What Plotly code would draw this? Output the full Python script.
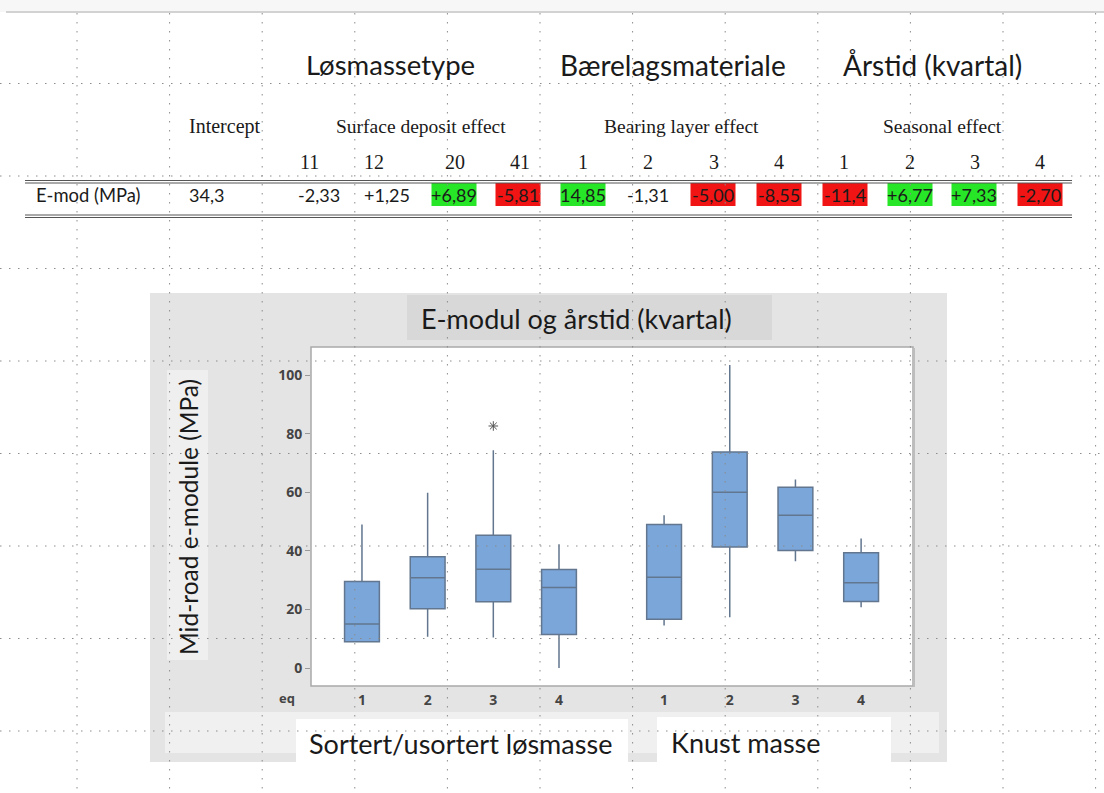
import plotly.graph_objects as go

# ---------------- data ----------------
# regression table (top)
intercept_label = "34,3"
surface_codes = ["11", "12", "20", "41"]
surface_effects = ["-2,33", "+1,25", "+6,89", "-5,81"]
bearing_codes = ["1", "2", "3", "4"]
bearing_effects = ["14,85", "-1,31", "-5,00", "-8,55"]
season_codes = ["1", "2", "3", "4"]
season_effects = ["-11,4", "+6,77", "+7,33", "-2,70"]
# highlight: "g" = green (significant +), "r" = red (significant -), "" = none
surface_flags = ["", "", "g", "r"]
bearing_flags = ["g", "", "r", "r"]
season_flags = ["r", "g", "g", "r"]

# box plot (E-modul by quarter, two groups)
group_names = ["Sortert/usortert løsmasse", "Knust masse"]
quarter_labels = ["1", "2", "3", "4", "1", "2", "3", "4"]
lower_whisker = [9.0, 10.7, 10.4, 0.0, 14.5, 17.3, 36.4, 20.7]
q1_values = [9.0, 20.2, 22.6, 11.4, 16.6, 41.3, 40.1, 22.7]
median_values = [15.0, 30.8, 33.7, 27.5, 31.0, 60.0, 52.1, 29.1]
q3_values = [29.5, 38.0, 45.3, 33.6, 49.0, 73.7, 61.7, 39.3]
upper_whisker = [49.0, 59.8, 74.3, 42.2, 52.1, 103.4, 64.3, 44.2]
outlier_box = [2]          # index of the box carrying an outlier
outlier_values = [82.6]
y_ticks = [0, 20, 40, 60, 80, 100]

# ---------------- layout helpers ----------------
W, H = 1104, 793
def fx(p):
    return p / W
def fy(p):
    return 1 - p / H

slot_x = [1, 2, 3, 4, 5.6, 6.6, 7.6, 8.6]   # axis slots for the 8 boxes

SANS = "Lato, 'Open Sans', sans-serif"
SERIF = "'Liberation Serif', 'DejaVu Serif', serif"
TICK = "'Open Sans', sans-serif"

fig = go.Figure()

fig.add_trace(go.Box(
    x=slot_x, q1=q1_values, median=median_values, q3=q3_values,
    lowerfence=lower_whisker, upperfence=upper_whisker,
    width=0.53, whiskerwidth=0, boxpoints=False,
    fillcolor="#7ba6d9", line=dict(color="#62768f", width=1.5),
    showlegend=False, hoverinfo="skip",
))
fig.add_trace(go.Scatter(
    x=[slot_x[i] for i in outlier_box], y=outlier_values, mode="markers",
    marker=dict(symbol="asterisk-open", size=8, color="#555",
                line=dict(color="#555", width=1)),
    showlegend=False, hoverinfo="skip",
))

shapes = []
def rect(x0, y0, x1, y1, fill, line=None, lw=0, layer="below"):
    shapes.append(dict(type="rect", xref="paper", yref="paper",
                       x0=fx(x0), x1=fx(x1), y0=fy(y1), y1=fy(y0),
                       fillcolor=fill, layer=layer,
                       line=dict(color=line or "rgba(0,0,0,0)", width=lw)))
def hline(x0, x1, y, color, width, dash="solid", layer="below"):
    shapes.append(dict(type="line", xref="paper", yref="paper",
                       x0=fx(x0), x1=fx(x1), y0=fy(y), y1=fy(y), layer=layer,
                       line=dict(color=color, width=width, dash=dash)))
def vline(x, y0, y1, color, width, dash="solid", layer="below"):
    shapes.append(dict(type="line", xref="paper", yref="paper",
                       x0=fx(x), x1=fx(x), y0=fy(y0), y1=fy(y1), layer=layer,
                       line=dict(color=color, width=width, dash=dash)))

# page top band
rect(0, 0, W, 12, "#f7f7f7")
hline(6, W, 12, "#d2d2d2", 2)

# chart panel
rect(150, 293, 947, 762, "#e4e4e4")
rect(407, 295, 772, 340, "#d8d8d8")
rect(167, 370, 208, 660, "#efefef")
rect(165, 712, 939, 753, "#f0f0f0")
rect(296, 719, 628, 763, "#ffffff")
rect(657, 717, 891, 763, "#ffffff")
rect(311, 347, 913, 686, "#ffffff", "#a9a9a9", 1.5)
vline(914, 348, 687, "#bdbdbd", 2)

# table
effect_centers = [319, 387, 454, 518, 583, 648, 713, 779, 845, 910, 974, 1040]
code_centers = [309, 374, 455, 520, 583, 648, 714, 779, 844, 910, 975, 1040]
all_effects = surface_effects + bearing_effects + season_effects
all_flags = surface_flags + bearing_flags + season_flags
all_codes = surface_codes + bearing_codes + season_codes
for cx, fl in zip(effect_centers, all_flags):
    if fl:
        rect(cx - 22.5, 183, cx + 22.5, 206, "#27e627" if fl == "g" else "#f01414")
for yy in (180.5, 183):
    hline(25, 1072, yy, "#555", 1)
for yy in (215, 217.5):
    hline(25, 1072, yy, "#555", 1)

# document dotted grid (drawn over everything)
for k in range(12):
    vline(77 + 92.6 * k, 13, H, "#8c8c8c", 1, dash="1.5px,7.5px", layer="above")
for k in range(8):
    hline(0, W, 83.5 + 92.5 * k, "#8c8c8c", 1, dash="1.5px,7.5px", layer="above")

ann = []
def text(x, y, s, size, family=SANS, color="#1a1a1a", xanchor="center",
         angle=0, weight="normal"):
    ann.append(dict(x=fx(x), y=fy(y), xref="paper", yref="paper", text=s,
                    showarrow=False, xanchor=xanchor, yanchor="middle",
                    textangle=angle,
                    font=dict(family=family, size=size, color=color, weight=weight)))

text(390, 65, "Løsmassetype", 27.5)
text(673, 65, "Bærelagsmateriale", 28)
text(932, 65, "Årstid (kvartal)", 28)
text(224.5, 127, "Intercept", 20, SERIF)
text(420.5, 127, "Surface deposit effect", 19.5, SERIF)
text(681.5, 127, "Bearing layer effect", 19.5, SERIF)
text(942, 127, "Seasonal effect", 19.5, SERIF)
for cx, c in zip(code_centers, all_codes):
    text(cx, 162, c, 20, SERIF)
text(34, 195, "E-mod (MPa)", 18.4, xanchor="left")
text(206, 195, intercept_label, 18)
for cx, v in zip(effect_centers, all_effects):
    text(cx, 195, v, 18)

text(576.5, 318, "E-modul og årstid (kvartal)", 27)
text(188, 517, "Mid-road e-module (MPa)", 24.5, angle=-90)
text(287, 698, "eq", 13, TICK, "#444", weight="bold")
text(460, 743, group_names[0], 27)
text(669, 742, group_names[1], 27, xanchor="left")

fig.update_layout(
    width=W, height=H, margin=dict(l=0, r=0, t=0, b=0),
    paper_bgcolor="white", plot_bgcolor="rgba(0,0,0,0)",
    shapes=shapes, annotations=ann, showlegend=False,
    xaxis=dict(domain=[fx(311), fx(913)], range=[0.224, 9.39],
               tickvals=slot_x, ticktext=quarter_labels, ticks="outside",
               ticklen=1, tickcolor="rgba(0,0,0,0)", showgrid=False,
               zeroline=False, showline=False,
               tickfont=dict(family=TICK, size=14, color="#444", weight="bold")),
    yaxis=dict(domain=[fy(686), fy(347)], range=[-6.14, 109.56],
               tickvals=y_ticks, ticks="outside", ticklen=5, tickcolor="#999",
               showgrid=False, zeroline=False, showline=False,
               tickfont=dict(family=TICK, size=14, color="#444", weight="bold")),
)

fig.write_html("out.html", config={"displayModeBar": False},
               post_script="document.body.style.margin='0';")
